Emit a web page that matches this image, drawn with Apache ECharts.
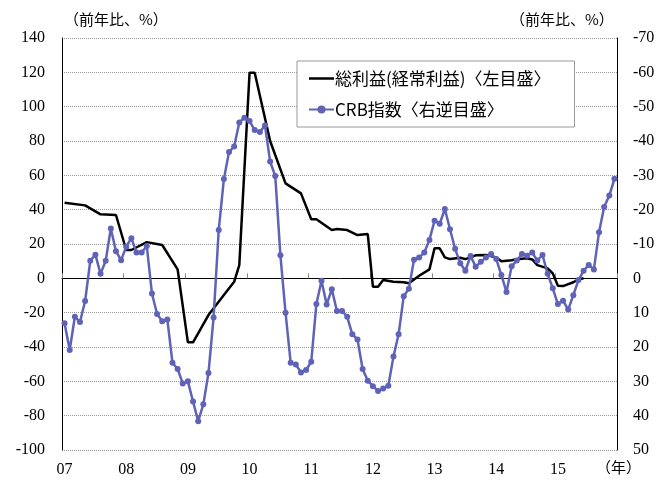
<!DOCTYPE html>
<html>
<head>
<meta charset="utf-8">
<script src="https://cdn.jsdelivr.net/npm/echarts@6/dist/echarts.min.js"></script>
<style>
  html, body { margin: 0; padding: 0; background: #fff; }
  #main { width: 660px; height: 480px; }
</style>
</head>
<body>
<div id="main"></div>
<script>
// year labels on the x axis (one every 12 months, Jan 2007 - Dec 2015)
const yearLabels = ['07', '08', '09', '10', '11', '12', '13', '14', '15']

// CRB index, yoy %, monthly Jan 2007 - Dec 2015 (right reversed axis)
const crbValues = [
  13.1, 20.9, 11.2, 12.7, 6.6, -5.1, -6.9, -1.3, -5.1, -14.5, -7.9, -5.3,
  -9.2, -11.7, -7.5, -7.5, -9.4, 4.4, 10.4, 12.5, 12.0, 24.6, 26.4, 30.6,
  30.0, 35.9, 41.6, 36.7, 27.6, 11.4, -14.1, -28.9, -36.8, -38.4, -45.4, -46.8,
  -45.8, -43.2, -42.6, -44.5, -34.0, -29.8, -6.7, 10.0, 24.6, 25.1, 27.4, 26.7,
  24.3, 7.5, 0.7, 7.6, 3.2, 9.5, 9.5, 11.2, 16.3, 17.8, 26.4, 29.8,
  31.4, 32.8, 32.1, 31.3, 22.8, 16.3, 5.2, 3.0, -5.4, -6.1, -7.5, -11.2,
  -16.8, -15.9, -20.2, -14.3, -8.6, -4.4, -2.2, -6.5, -3.4, -4.8, -6.1, -7.1,
  -5.6, -1.0, 4.0, -3.5, -5.2, -7.1, -6.6, -7.5, -5.2, -6.8, -1.3, 2.9,
  7.5, 6.5, 9.1, 4.9, 0.5, -2.2, -3.9, -2.6, -13.4, -20.8, -24.1, -29.0
]

// 総利益 (経常利益), yoy %: month index (0 = Jan 2007) and value (left axis)
const profitMonths = [
  0, 4, 7, 10, 12, 13, 16, 19, 22, 24, 25, 28, 31, 33, 34, 36, 37, 40, 43,
  46, 48, 49, 52, 53, 55, 57, 59, 60, 61, 62, 64, 66, 67, 69, 71, 72, 73,
  74, 75, 77, 78, 80, 82, 84, 85, 87, 88, 90, 91, 92, 94, 95, 96, 97, 99, 100, 101
]
const profitValues = [
  44.0, 42.5, 37.3, 36.9, 16.5, 16.5, 21.1, 19.4, 5.2, -37.3, -37.3, -21.4, -9.7, -2.0, 7.7, 119.8, 119.8, 80.0, 55.3,
  49.5, 34.4, 34.4, 28.1, 28.7, 28.1, 25.2, 25.8, -4.9, -4.9, -1.0, -2.0, -2.3, -2.9, 1.5, 5.2, 17.5, 17.5,
  12.2, 11.2, 12.0, 11.2, 13.4, 13.6, 12.2, 9.9, 10.5, 11.1, 11.7, 11.0, 7.7, 5.8, 2.9, -4.3, -4.5, -2.3, -0.6, 0.0
]

const months = []
yearLabels.forEach((y) => {
  for (let m = 1; m <= 12; m++) months.push(y + '/' + m)
})

const profitData = profitMonths.map((m, i) => [m, profitValues[i]])

const serif = 'Liberation Serif'
const cjk = 'Noto Sans CJK JP'

const option = {
  animation: false,
  backgroundColor: '#fff',
  grid: { left: 62, right: 43, top: 38, bottom: 30 },
  legend: {
    orient: 'vertical',
    left: 297,
    top: 61,
    padding: [9, 24, 9, 11],
    itemGap: 14,
    itemWidth: 25,
    itemHeight: 10,
    symbolKeepAspect: true,
    borderColor: '#999',
    borderWidth: 1,
    backgroundColor: '#fff',
    textStyle: { fontFamily: cjk, fontSize: 17, color: '#000', padding: [0, 0, 0, -4] },
    data: [
      { name: '総利益(経常利益)〈左目盛〉', icon: 'path://M0,0 L25,0 L25,2.5 L0,2.5 Z' },
      'CRB指数〈右逆目盛〉'
    ]
  },
  xAxis: [
    {
      type: 'category',
      data: months,
      boundaryGap: true,
      position: 'bottom',
      axisLine: { show: false },
      axisTick: { show: false },
      splitLine: { show: false },
      axisLabel: {
        interval: 11,
        formatter: (v) => v.split('/')[0],
        fontFamily: serif,
        fontSize: 16,
        color: '#000',
        margin: 12
      }
    },
    {
      type: 'category',
      data: months,
      boundaryGap: true,
      position: 'top',
      axisLine: { onZero: true, lineStyle: { color: '#000', width: 1 } },
      axisTick: { show: true, interval: 11, inside: false, length: 5, lineStyle: { color: '#888', width: 1 } },
      axisLabel: { show: false },
      splitLine: { show: false }
    }
  ],
  yAxis: [
    {
      type: 'value',
      position: 'left',
      min: -100,
      max: 140,
      interval: 20,
      axisLine: { show: true, lineStyle: { color: '#000', width: 1 } },
      axisTick: { show: false },
      axisLabel: { fontFamily: serif, fontSize: 16, color: '#000', margin: 17 },
      splitLine: { show: true, lineStyle: { color: '#999', type: 'dotted', width: 1 } }
    },
    {
      type: 'value',
      position: 'right',
      inverse: true,
      min: -70,
      max: 50,
      interval: 10,
      axisLine: { show: true, lineStyle: { color: '#000', width: 1 } },
      axisTick: { show: false },
      axisLabel: { fontFamily: serif, fontSize: 16, color: '#000', margin: 16 },
      splitLine: { show: false }
    }
  ],
  graphic: [
    { type: 'text', left: 64, top: 12, style: { text: '（前年比、%）', font: '15px "Noto Sans CJK JP"', fill: '#000' } },
    { type: 'text', left: 510, top: 12, style: { text: '（前年比、%）', font: '15px "Noto Sans CJK JP"', fill: '#000' } },
    { type: 'text', left: 596, top: 460, style: { text: '（年）', font: '15px "Noto Sans CJK JP"', fill: '#000' } }
  ],
  series: [
    {
      name: '総利益(経常利益)〈左目盛〉',
      type: 'line',
      xAxisIndex: 0,
      yAxisIndex: 0,
      data: profitData,
      showSymbol: false,
      symbol: 'none',
      connectNulls: true,
      lineStyle: { color: '#000', width: 2.5 },
      itemStyle: { color: '#000' },
      z: 2
    },
    {
      name: 'CRB指数〈右逆目盛〉',
      type: 'line',
      xAxisIndex: 0,
      yAxisIndex: 1,
      data: crbValues,
      symbol: 'circle',
      symbolSize: 6,
      showAllSymbol: true,
      lineStyle: { color: '#5f63b8', width: 2.5 },
      itemStyle: { color: '#5f63b8' },
      z: 3
    }
  ]
}

const chart = echarts.init(document.getElementById('main'), null, { renderer: 'canvas' })
chart.setOption(option)
</script>
</body>
</html>
